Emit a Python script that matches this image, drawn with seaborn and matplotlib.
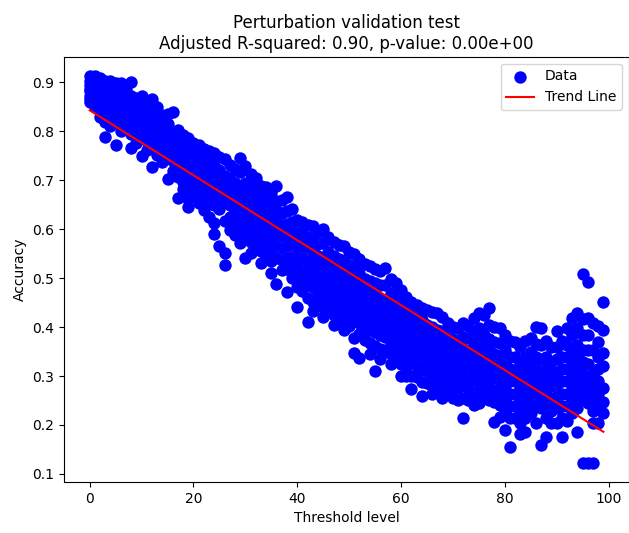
import numpy as np
import pandas as pd
import matplotlib
matplotlib.use("Agg")
import matplotlib.pyplot as plt
import seaborn as sns

# Accuracy readings per threshold level (0..99)
acc_00_09 = [
    [0.912, 0.894, 0.881, 0.859, 0.903, 0.866, 0.887, 0.872],
    [0.907, 0.889, 0.857, 0.878, 0.851, 0.898, 0.869, 0.912],
    [0.909, 0.871, 0.846, 0.893, 0.829, 0.858, 0.883, 0.901],
    [0.788, 0.902, 0.853, 0.818, 0.879, 0.839, 0.893, 0.864],
    [0.897, 0.811, 0.868, 0.848, 0.831, 0.884, 0.902, 0.857],
    [0.771, 0.899, 0.836, 0.861, 0.819, 0.882, 0.845, 0.871],
    [0.801, 0.854, 0.899, 0.826, 0.876, 0.841, 0.864, 0.889],
    [0.893, 0.812, 0.859, 0.834, 0.873, 0.849, 0.824, 0.884],
    [0.765, 0.901, 0.794, 0.853, 0.829, 0.872, 0.813, 0.843],
    [0.776, 0.867, 0.821, 0.844, 0.798, 0.856, 0.831, 0.808],
]
acc_10_19 = [
    [0.749, 0.871, 0.786, 0.838, 0.815, 0.852, 0.801, 0.826],
    [0.762, 0.858, 0.808, 0.833, 0.779, 0.821, 0.794],
    [0.726, 0.866, 0.769, 0.826, 0.804, 0.846, 0.789, 0.814],
    [0.752, 0.849, 0.786, 0.815, 0.766, 0.832, 0.801],
    [0.737, 0.832, 0.769, 0.804, 0.788, 0.755, 0.819],
    [0.702, 0.836, 0.745, 0.791, 0.815, 0.766, 0.778],
    [0.719, 0.839, 0.761, 0.739, 0.786, 0.798, 0.773],
    [0.664, 0.802, 0.707, 0.751, 0.728, 0.774, 0.759, 0.787],
    [0.681, 0.792, 0.724, 0.696, 0.763, 0.741, 0.711],
    [0.646, 0.786, 0.661, 0.716, 0.751, 0.692, 0.734, 0.767],
]
acc_20_29 = [
    [0.668, 0.776, 0.705, 0.744, 0.682, 0.723, 0.759],
    [0.653, 0.771, 0.694, 0.733, 0.676, 0.716, 0.751],
    [0.639, 0.764, 0.671, 0.741, 0.702, 0.724, 0.686, 0.655],
    [0.624, 0.759, 0.659, 0.708, 0.738, 0.684, 0.725],
    [0.591, 0.756, 0.613, 0.701, 0.649, 0.731, 0.673, 0.714],
    [0.566, 0.748, 0.641, 0.688, 0.721, 0.665, 0.703],
    [0.527, 0.744, 0.551, 0.617, 0.681, 0.655, 0.709, 0.694],
    [0.598, 0.731, 0.649, 0.686, 0.624, 0.703, 0.668],
    [0.587, 0.722, 0.638, 0.694, 0.611, 0.661, 0.676],
    [0.571, 0.746, 0.601, 0.648, 0.716, 0.623, 0.685, 0.669],
]
acc_30_39 = [
    [0.541, 0.728, 0.582, 0.631, 0.695, 0.609, 0.658, 0.676],
    [0.552, 0.713, 0.574, 0.621, 0.689, 0.599, 0.651, 0.666],
    [0.563, 0.704, 0.611, 0.665, 0.586, 0.639, 0.684],
    [0.531, 0.689, 0.555, 0.604, 0.655, 0.576, 0.631, 0.668],
    [0.546, 0.685, 0.595, 0.641, 0.569, 0.614, 0.659],
    [0.511, 0.674, 0.534, 0.584, 0.629, 0.561, 0.606, 0.649],
    [0.488, 0.689, 0.541, 0.591, 0.639, 0.565, 0.614, 0.658],
    [0.516, 0.659, 0.561, 0.609, 0.536, 0.586, 0.633],
    [0.471, 0.666, 0.519, 0.566, 0.611, 0.541, 0.589, 0.636],
    [0.501, 0.641, 0.544, 0.595, 0.523, 0.571, 0.615],
]
acc_40_49 = [
    [0.441, 0.619, 0.481, 0.526, 0.574, 0.502, 0.551, 0.594],
    [0.474, 0.614, 0.515, 0.566, 0.493, 0.541, 0.589],
    [0.411, 0.609, 0.459, 0.511, 0.561, 0.486, 0.535, 0.584],
    [0.432, 0.606, 0.452, 0.506, 0.554, 0.481, 0.529, 0.579],
    [0.448, 0.594, 0.494, 0.545, 0.471, 0.521, 0.569],
    [0.421, 0.601, 0.441, 0.491, 0.539, 0.466, 0.515, 0.571],
    [0.434, 0.583, 0.483, 0.529, 0.457, 0.505, 0.554],
    [0.404, 0.574, 0.424, 0.473, 0.519, 0.447, 0.495, 0.545],
    [0.419, 0.568, 0.465, 0.514, 0.441, 0.489, 0.539],
    [0.394, 0.566, 0.412, 0.459, 0.509, 0.435, 0.484, 0.535],
]
acc_50_59 = [
    [0.403, 0.554, 0.451, 0.499, 0.425, 0.474, 0.526],
    [0.346, 0.549, 0.378, 0.443, 0.494, 0.419, 0.468, 0.521],
    [0.336, 0.539, 0.386, 0.433, 0.485, 0.409, 0.459, 0.511],
    [0.373, 0.529, 0.425, 0.475, 0.399, 0.449, 0.499],
    [0.344, 0.524, 0.367, 0.419, 0.469, 0.394, 0.444, 0.495],
    [0.311, 0.519, 0.361, 0.414, 0.463, 0.389, 0.439, 0.489],
    [0.334, 0.514, 0.355, 0.409, 0.458, 0.384, 0.433, 0.485],
    [0.353, 0.521, 0.404, 0.454, 0.379, 0.429, 0.486],
    [0.324, 0.498, 0.345, 0.395, 0.444, 0.369, 0.419, 0.469],
    [0.338, 0.489, 0.385, 0.434, 0.359, 0.409, 0.459],
]
acc_60_69 = [
    [0.299, 0.476, 0.325, 0.375, 0.424, 0.351, 0.399, 0.449],
    [0.301, 0.461, 0.319, 0.368, 0.416, 0.341, 0.391, 0.436],
    [0.274, 0.451, 0.299, 0.358, 0.406, 0.333, 0.381, 0.426],
    [0.298, 0.444, 0.348, 0.398, 0.321, 0.371, 0.421],
    [0.259, 0.439, 0.287, 0.341, 0.391, 0.316, 0.366, 0.415],
    [0.286, 0.434, 0.336, 0.383, 0.311, 0.358, 0.405],
    [0.264, 0.431, 0.279, 0.326, 0.376, 0.301, 0.351, 0.401],
    [0.272, 0.428, 0.321, 0.371, 0.296, 0.346, 0.394],
    [0.255, 0.421, 0.267, 0.316, 0.366, 0.291, 0.341, 0.391],
    [0.266, 0.409, 0.311, 0.358, 0.286, 0.335, 0.381],
]
acc_70_79 = [
    [0.256, 0.401, 0.281, 0.328, 0.375, 0.306, 0.351],
    [0.252, 0.398, 0.276, 0.323, 0.369, 0.298, 0.346],
    [0.214, 0.408, 0.256, 0.306, 0.355, 0.281, 0.331, 0.379],
    [0.251, 0.403, 0.276, 0.326, 0.301, 0.351, 0.377],
    [0.241, 0.418, 0.266, 0.316, 0.364, 0.291, 0.341, 0.389],
    [0.245, 0.429, 0.271, 0.321, 0.371, 0.296, 0.346, 0.398],
    [0.261, 0.424, 0.286, 0.336, 0.384, 0.311, 0.361],
    [0.251, 0.438, 0.276, 0.326, 0.375, 0.301, 0.351, 0.405],
    [0.206, 0.401, 0.246, 0.295, 0.344, 0.271, 0.321, 0.369],
    [0.217, 0.399, 0.241, 0.291, 0.341, 0.266, 0.316, 0.368],
]
acc_80_89 = [
    [0.189, 0.384, 0.229, 0.279, 0.329, 0.254, 0.304, 0.354],
    [0.155, 0.371, 0.214, 0.264, 0.314, 0.239, 0.289, 0.339],
    [0.214, 0.369, 0.238, 0.289, 0.263, 0.313, 0.339],
    [0.181, 0.359, 0.204, 0.254, 0.304, 0.229, 0.279, 0.329],
    [0.186, 0.371, 0.214, 0.264, 0.314, 0.239, 0.289, 0.339],
    [0.224, 0.378, 0.249, 0.299, 0.274, 0.324, 0.349],
    [0.204, 0.401, 0.239, 0.289, 0.339, 0.264, 0.314, 0.366],
    [0.159, 0.398, 0.234, 0.284, 0.334, 0.259, 0.309, 0.364],
    [0.176, 0.371, 0.214, 0.264, 0.314, 0.239, 0.289, 0.339],
    [0.204, 0.359, 0.229, 0.279, 0.254, 0.304, 0.329],
]
acc_90_99 = [
    [0.204, 0.392, 0.234, 0.284, 0.334, 0.259, 0.309, 0.359],
    [0.176, 0.371, 0.214, 0.264, 0.314, 0.239, 0.289, 0.339],
    [0.209, 0.398, 0.239, 0.289, 0.339, 0.264, 0.314, 0.364],
    [0.224, 0.419, 0.254, 0.304, 0.354, 0.279, 0.329, 0.384],
    [0.186, 0.428, 0.234, 0.289, 0.339, 0.264, 0.314, 0.364, 0.398],
    [0.123, 0.508, 0.254, 0.304, 0.354, 0.279, 0.329, 0.384, 0.416],
    [0.123, 0.491, 0.244, 0.294, 0.354, 0.269, 0.324, 0.384, 0.418],
    [0.123, 0.409, 0.204, 0.254, 0.304, 0.229, 0.279, 0.354],
    [0.204, 0.402, 0.234, 0.289, 0.339, 0.264, 0.314, 0.369],
    [0.224, 0.451, 0.246, 0.276, 0.321, 0.347, 0.394],
]

threshold_levels = list(range(100))

title = "Perturbation validation test\nAdjusted R-squared: 0.90, p-value: 0.00e+00"
x_label = "Threshold level"
y_label = "Accuracy"

# ---- build long table ----
all_groups = (acc_00_09 + acc_10_19 + acc_20_29 + acc_30_39 + acc_40_49 +
              acc_50_59 + acc_60_69 + acc_70_79 + acc_80_89 + acc_90_99)
rows = []
for t, vals in zip(threshold_levels, all_groups):
    for v in vals:
        rows.append((t, v))
df = pd.DataFrame(rows, columns=["threshold", "accuracy"])

slope, intercept = np.polyfit(df["threshold"], df["accuracy"], 1)
trend = pd.DataFrame({"threshold": [min(threshold_levels), max(threshold_levels)]})
trend["accuracy"] = intercept + slope * trend["threshold"]

fig = plt.figure(figsize=(6.29, 5.33), dpi=100)
ax = fig.add_axes([64 / 629, 1 - 482 / 533, (629 - 64) / 629, (482 - 57) / 533])

sns.scatterplot(data=df, x="threshold", y="accuracy", color="blue", s=80,
                linewidth=0, label="Data", ax=ax)
sns.lineplot(data=trend, x="threshold", y="accuracy", color="red",
             label="Trend Line", ax=ax)

ax.set_title(title, fontsize=12)
ax.set_xlabel(x_label)
ax.set_ylabel(y_label)
ax.set_xticks([0, 20, 40, 60, 80, 100])
ax.set_yticks([0.1, 0.2, 0.3, 0.4, 0.5, 0.6, 0.7, 0.8, 0.9])
ax.set_xlim(-4.95, 103.95)
ax.legend(loc="upper right")

fig.savefig("out.png", dpi=100)
